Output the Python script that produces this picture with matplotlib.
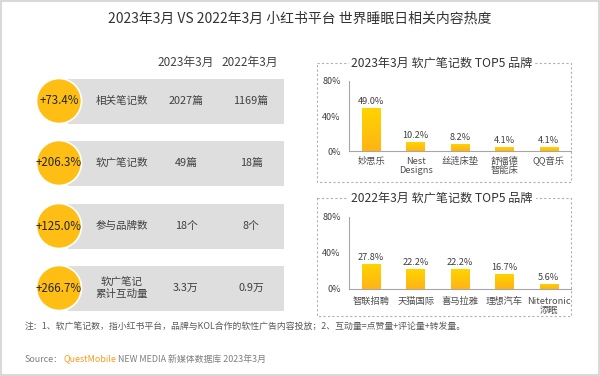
import numpy as np
import matplotlib.pyplot as plt
from matplotlib.patches import Circle, Rectangle

plt.rcParams['font.family'] = ['Noto Sans CJK SC', 'DejaVu Sans']

# 左侧表格
metrics = ['相关笔记数', '软广笔记数', '参与品牌数', '软广笔记\n累计互动量']
growth = ['+73.4%', '+206.3%', '+125.0%', '+266.7%']
val_2023 = ['2027篇', '49篇', '18个', '3.3万']
val_2022 = ['1169篇', '18篇', '8个', '0.9万']
col_heads = ['2023年3月', '2022年3月']

# 右侧 TOP5
brands_2023 = ['妙思乐', 'Nest\nDesigns', '丝涟床垫', '舒福德\n智能床', 'QQ音乐']
share_2023 = [49.0, 10.2, 8.2, 4.1, 4.1]
brands_2022 = ['智联招聘', '天猫国际', '喜马拉雅', '理想汽车', 'Nitetronic\n添眠']
share_2022 = [27.8, 22.2, 22.2, 16.7, 5.6]

W, H = 600, 376
fig = plt.figure(figsize=(W / 100, H / 100), dpi=100)
bg = fig.add_axes([0, 0, 1, 1])
bg.set_xlim(0, W)
bg.set_ylim(H, 0)
bg.axis('off')

dark = '#404040'
yellow = '#FFBE14'

# 外框
bg.add_patch(Rectangle((1, 1), W - 2, H - 2, fill=False, ec='#d9d9d9', lw=1.5))

bg.text(300, 19, '2023年3月 VS 2022年3月 小红书平台 世界睡眠日相关内容热度',
        ha='center', va='center', fontsize=10, color='#333333')

# 表头
for x, h in zip([186, 250], col_heads):
    bg.text(x, 62, h, ha='center', va='center', fontsize=8.5, color=dark)

row_y = [101, 163, 226, 288]
for i, y in enumerate(row_y):
    bg.add_patch(Rectangle((68, y - 22.5), 216, 45, fc='#dedede', ec='none', zorder=1))
    bg.add_patch(Circle((59, y), 22.5, fc=yellow, ec='white', lw=1.2, zorder=2))
    bg.text(59, y, growth[i], ha='center', va='center', fontsize=8.3, color='#262626', zorder=3)
    bg.text(122, y, metrics[i], ha='center', va='center', fontsize=7.6, color=dark,
            linespacing=1.1, zorder=3)
    bg.text(186, y, val_2023[i], ha='center', va='center', fontsize=7.8, color=dark, zorder=3)
    bg.text(251, y, val_2022[i], ha='center', va='center', fontsize=7.8, color=dark, zorder=3)

# 虚线框与标题
for (y0, y1, title) in [(63, 182, '2023年3月 软广笔记数 TOP5 品牌'),
                        (198, 316, '2022年3月 软广笔记数 TOP5 品牌')]:
    bg.add_patch(Rectangle((317, y0), 254, y1 - y0, fill=False, ec='#b0b0b0',
                           lw=0.8, ls=(0, (2, 2))))
    bg.text(442, y0, title, ha='center', va='center', fontsize=8.7, color='#333333',
            bbox=dict(fc='white', ec='none', pad=2))

grad = np.linspace(0, 1, 100).reshape(-1, 1)
cmap = plt.matplotlib.colors.LinearSegmentedColormap.from_list('g', ['#FFB414', '#FFD400'])


def bar_panel(rect, labels, vals, xpad):
    ax = fig.add_axes(rect)
    ax.patch.set_alpha(0)
    x = np.arange(len(vals))
    bars = ax.bar(x, vals, width=0.41, color='#FFC80F', zorder=2)
    for b in bars:
        bx, by = b.get_x(), b.get_y()
        im = ax.imshow(grad, extent=[bx, bx + b.get_width(), by, by + b.get_height()],
                       origin='lower', cmap=cmap, aspect='auto', zorder=3)
        im.set_clip_path(b)
    for xi, v in zip(x, vals):
        ax.text(xi, v + 2.5, f'{v:.1f}%', ha='center', va='bottom', fontsize=6.6, color=dark)
    ax.set_xlim(-0.5, len(vals) - 0.5)
    ax.set_ylim(0, 80)
    ax.set_yticks([0, 40, 80])
    ax.set_yticklabels(['0%', '40%', '80%'], fontsize=6.5, color=dark)
    ax.set_xticks(x)
    ax.set_xticklabels(labels, fontsize=6.7, color='#4d4d4d', linespacing=1.0)
    ax.tick_params(axis='x', length=0, pad=xpad)
    ax.tick_params(axis='y', length=0, pad=6)
    for s in ['top', 'right']:
        ax.spines[s].set_visible(False)
    for s in ['left', 'bottom']:
        ax.spines[s].set_color('#a6a6a6')
        ax.spines[s].set_linewidth(0.8)
    return ax


bar_panel([349 / W, 1 - 151 / H, 222 / W, 70 / H], brands_2023, share_2023, 4)
bar_panel([349 / W, 1 - 289 / H, 222 / W, 72 / H], brands_2022, share_2022, 6)

# 注释与来源
bg.text(25, 326, '注：1、软广笔记数，指小红书平台，品牌与KOL合作的软性广告内容投放；2、互动量=点赞量+评论量+转发量。',
        ha='left', va='center', fontsize=6.4, color='#595959')
t1 = bg.text(25, 359, 'Source：', ha='left', va='center', fontsize=6.4, color='#7f7f7f')
fig.canvas.draw()
r = fig.canvas.get_renderer()
e1 = t1.get_window_extent(r)
t2 = bg.annotate('QuestMobile', xy=(e1.x1, e1.y0), xycoords='figure pixels', ha='left', va='bottom',
                 fontsize=6.4, color='#FF9A1E')
fig.canvas.draw()
e2 = t2.get_window_extent(r)
bg.annotate(' NEW MEDIA 新媒体数据库 2023年3月', xy=(e2.x1, e1.y0), xycoords='figure pixels',
            ha='left', va='bottom', fontsize=6.4, color='#7f7f7f')

fig.savefig('out.png', dpi=100)
